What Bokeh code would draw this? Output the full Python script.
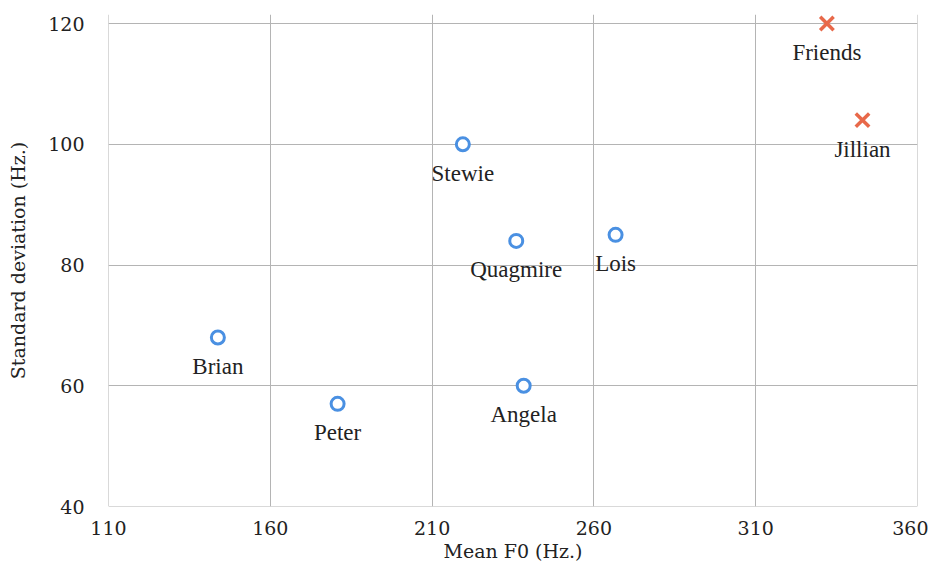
from bokeh.plotting import figure
from bokeh.models import ColumnDataSource, Range1d, FixedTicker, LabelSet, Span
from bokeh.embed import file_html
from bokeh.resources import INLINE

# data
names_a = ["Stewie", "Quagmire", "Lois", "Brian", "Peter", "Angela"]
mean_f0_a = [219.5, 236, 266.7, 143.8, 180.8, 238.3]
std_a = [100, 84, 85, 68, 57, 60]

names_b = ["Friends", "Jillian"]
mean_f0_b = [332, 343]
std_b = [120, 104]

x_ticks = [110, 160, 210, 260, 310, 360]
y_ticks = [40, 60, 80, 100, 120]

FONT = "DejaVu Serif"
GRID = "#b4b4b4"
TXT = "#222222"

p = figure(width=928, height=566, output_backend="svg", toolbar_location=None,
           x_range=Range1d(110, 360), y_range=Range1d(40, 121.5),
           min_border_left=108, min_border_right=11, min_border_top=14,
           min_border_bottom=60)

p.outline_line_color = None
p.background_fill_color = "white"
p.border_fill_color = "white"

for ax in (p.xaxis[0], p.yaxis[0]):
    ax.axis_line_color = None
    ax.major_tick_line_color = None
    ax.minor_tick_line_color = None
    ax.major_tick_out = 0
    ax.major_tick_in = 0
    ax.minor_tick_out = 0
    ax.major_label_text_font = FONT
    ax.major_label_text_font_size = "19px"
    ax.major_label_text_color = TXT
    ax.axis_label_text_font = FONT
    ax.axis_label_text_font_style = "normal"
    ax.axis_label_text_color = TXT

p.xaxis.axis_label_text_font_size = "19px"
p.yaxis.axis_label_text_font_size = "19px"
p.xaxis.ticker = FixedTicker(ticks=x_ticks)
p.yaxis.ticker = FixedTicker(ticks=y_ticks)
p.xaxis.axis_label = "Mean F0 (Hz.)"
p.yaxis.axis_label = "Standard deviation (Hz.)"
p.xaxis.major_label_standoff = 14
p.xaxis.axis_label_standoff = 2
p.yaxis.major_label_standoff = 24
p.yaxis.axis_label_standoff = 16

p.xgrid.ticker = FixedTicker(ticks=x_ticks)
p.ygrid.ticker = FixedTicker(ticks=y_ticks)
p.xgrid.grid_line_color = GRID
p.ygrid.grid_line_color = GRID
p.xgrid.grid_line_width = 1
p.ygrid.grid_line_width = 1

# frame edges (left, right, bottom) drawn as spans at the outer ticks
p.add_layout(Span(location=x_ticks[0], dimension="height", line_color=GRID, line_width=1))
p.add_layout(Span(location=x_ticks[-1], dimension="height", line_color=GRID, line_width=1))
p.add_layout(Span(location=y_ticks[0], dimension="width", line_color=GRID, line_width=1))

src_a = ColumnDataSource(dict(x=mean_f0_a, y=std_a, name=names_a))
src_b = ColumnDataSource(dict(x=mean_f0_b, y=std_b, name=names_b))

p.scatter("x", "y", source=src_a, marker="circle", size=13, line_width=3,
          line_color="#4a90e2", fill_color="white")
p.scatter("x", "y", source=src_b, marker="x", size=19, line_width=3.5,
          line_color="#e8694a")

for src in (src_a, src_b):
    lbl = LabelSet(x="x", y="y", text="name", source=src, y_offset=-29,
                   text_align="center", text_baseline="middle",
                   text_font=FONT, text_font_size="23px", text_color=TXT)
    p.add_layout(lbl)

open("out.html", "w").write(file_html(p, INLINE))
